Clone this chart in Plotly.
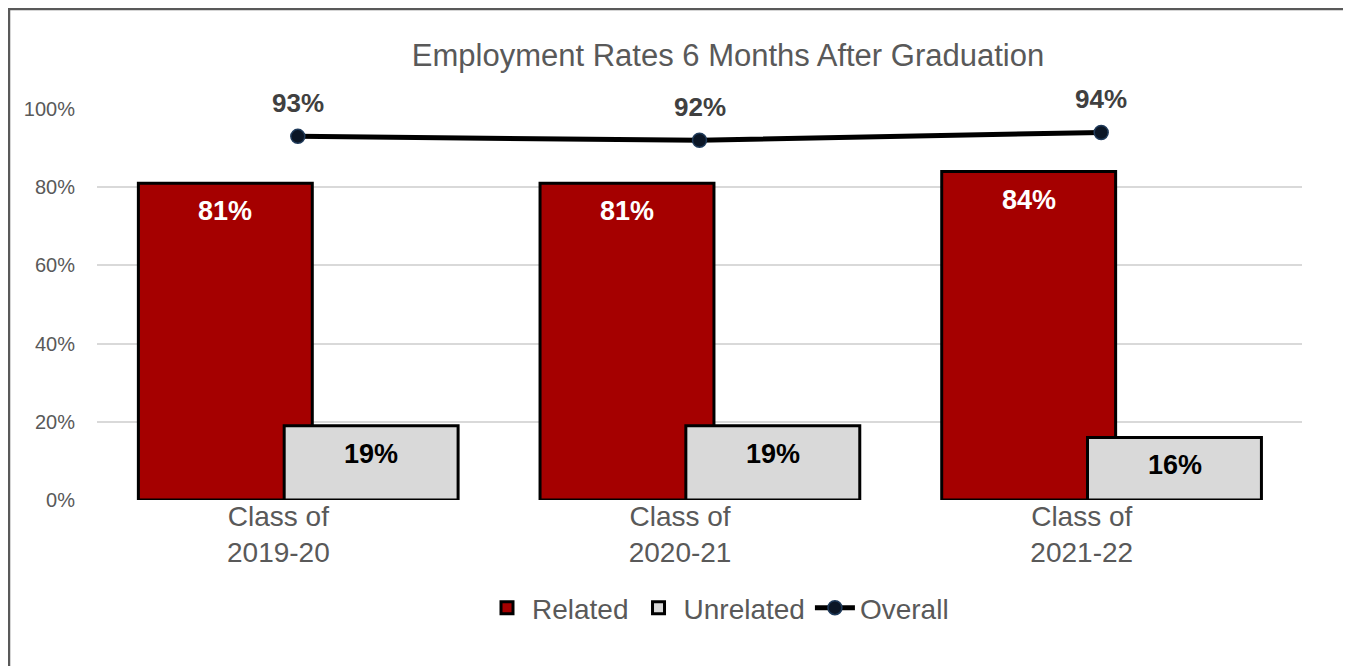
import plotly.graph_objects as go

categories = ["Class of<br>2019-20", "Class of<br>2020-21", "Class of<br>2021-22"]
related = [0.81, 0.81, 0.84]
unrelated = [0.19, 0.19, 0.16]
overall = [0.93, 0.92, 0.94]
y_ticks = [0, 0.2, 0.4, 0.6, 0.8, 1.0]

FONT = "Liberation Sans, Arial, sans-serif"
TXT = "#595959"
BAR_W = 0.433
REL_OFF = -0.397
UNR_OFF = -0.034
PX_PER_CAT = 402

W, H = 1343, 658
L, R, T, B = 89, 49, 101, 166
PW, PH = W - L - R, H - T - B

fig = go.Figure()
fig.add_trace(go.Bar(
    x=categories, y=related, name="Related",
    marker=dict(color="#A50000", line=dict(color="black", width=3)),
    width=BAR_W, offset=REL_OFF, hoverinfo="y",
))
fig.add_trace(go.Bar(
    x=categories, y=unrelated, name="Unrelated",
    marker=dict(color="#D9D9D9", line=dict(color="black", width=3)),
    width=BAR_W, offset=UNR_OFF, hoverinfo="y",
))
fig.add_trace(go.Scatter(
    x=categories, y=overall, name="Overall", mode="lines+markers",
    line=dict(color="black", width=5),
    marker=dict(color="#0B1626", size=14, line=dict(color="#1F3A5A", width=1.5)),
    cliponaxis=False,
))

annotations = []
rel_shift = (REL_OFF + BAR_W / 2) * PX_PER_CAT
unr_shift = (UNR_OFF + BAR_W / 2) * PX_PER_CAT
for c, r, u, o in zip(categories, related, unrelated, overall):
    annotations.append(dict(x=c, y=r, xref="x", yref="y", text=f"<b>{r:.0%}</b>",
                            showarrow=False, xshift=rel_shift, yshift=-28,
                            font=dict(family=FONT, size=27, color="white")))
    annotations.append(dict(x=c, y=u, xref="x", yref="y", text=f"<b>{u:.0%}</b>",
                            showarrow=False, xshift=unr_shift, yshift=-28,
                            font=dict(family=FONT, size=27, color="black")))
    annotations.append(dict(x=c, y=o, xref="x", yref="y", text=f"<b>{o:.0%}</b>",
                            showarrow=False, yshift=33,
                            font=dict(family=FONT, size=26, color="#404040")))

# tick labels sit slightly left of the category centre, as in the source chart
pad = "&nbsp;" * 5
tick_text = ["<br>".join(part + pad for part in c.split("<br>")) for c in categories]

fig.update_layout(
    width=W, height=H,
    margin=dict(l=L, r=R, t=T, b=B),
    paper_bgcolor="white", plot_bgcolor="white",
    barmode="overlay",
    title=dict(text="Employment Rates 6 Months After Graduation",
               x=720 / W, xanchor="center", y=1 - 47 / H, yanchor="middle",
               font=dict(family=FONT, size=31, color=TXT)),
    font=dict(family=FONT, color=TXT),
    xaxis=dict(showgrid=False, showline=False, zeroline=False,
               tickfont=dict(family=FONT, size=28, color=TXT),
               tickmode="array", tickvals=categories, ticktext=tick_text,
               range=[-0.5, 2.5], ticks="", ticklabelstandoff=-3),
    yaxis=dict(range=[0, 1], tickvals=y_ticks, tickformat=".0%",
               showgrid=True, gridcolor="#D9D9D9", gridwidth=2,
               zeroline=False, showline=False,
               tickfont=dict(family=FONT, size=20, color=TXT),
               ticklabelstandoff=21),
    legend=dict(orientation="h", x=(710 - L) / PW, xanchor="center",
                y=(492 - 600) / PH, yanchor="middle",
                font=dict(family=FONT, size=28, color=TXT),
                itemwidth=40, tracegroupgap=0),
    annotations=annotations,
    showlegend=True,
)

fig.add_shape(type="rect", xref="paper", yref="paper",
              x0=(1 - L) / PW, x1=(1340 - L) / PW,
              y0=(492 - 680) / PH, y1=(492 - 1) / PH,
              line=dict(color="#595959", width=2.5), fillcolor="rgba(0,0,0,0)",
              layer="below")

fig.write_html("out.html")
